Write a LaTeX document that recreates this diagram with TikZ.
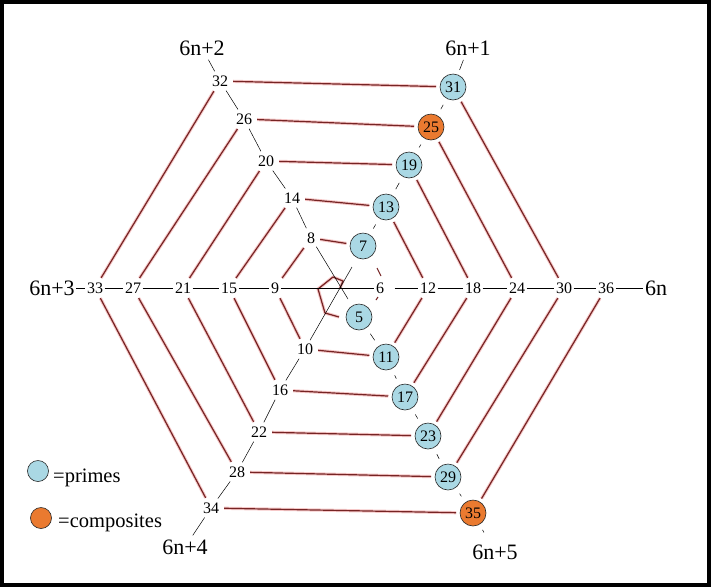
\documentclass[tikz,border=0pt]{standalone}
\usepackage{fontspec}
\setmainfont{Liberation Serif}
\usetikzlibrary{calc}
\definecolor{pblue}{RGB}{170,216,228}
\definecolor{corange}{RGB}{234,122,48}
\definecolor{sred}{RGB}{118,36,36}
\definecolor{shalo}{RGB}{246,200,200}
\begin{document}
\begin{tikzpicture}[x=1pt,y=-1pt,
  num/.style={inner sep=1.5pt, font=\fontsize{16}{16}\selectfont},
  pr/.style={circle, draw=black!85, line width=0.6pt, fill=pblue, minimum size=26pt, inner sep=0pt, font=\fontsize{16}{16}\selectfont},
  co/.style={pr, fill=corange},
  lab/.style={inner sep=1.5pt, font=\fontsize{22}{22}\selectfont},
  spoke/.style={black, line width=0.7pt},
  halo/.style={shalo, line width=3.2pt},
  sp/.style={sred, line width=1.2pt},
]
\useasboundingbox (0,0) rectangle (711,587);
\fill[white] (0,0) rectangle (711,587);

% axis labels
\node[lab] (L0) at (656,288) {6n};
\node[lab] (L1) at (468,48) {6n+1};
\node[lab] (L2) at (202,48) {6n+2};
\node[lab] (L3) at (52,288) {6n+3};
\node[lab] (L4) at (185,547) {6n+4};
\node[lab] (L5) at (495,552) {6n+5};

% numbers
\node[pr]  (n5)  at (359,317) {5};
\node[num] (n6)  at (380,288) {6};
\node[pr]  (n7)  at (363,246) {7};
\node[num] (n8)  at (311,238) {8};
\node[num] (n9)  at (275,288) {9};
\node[num] (n10) at (305,349) {10};
\node[pr]  (n11) at (386,357) {11};
\node[num] (n12) at (428,288) {12};
\node[pr]  (n13) at (386,207) {13};
\node[num] (n14) at (292,198) {14};
\node[num] (n15) at (229,288) {15};
\node[num] (n16) at (280,390) {16};
\node[pr]  (n17) at (405,397) {17};
\node[num] (n18) at (473,288) {18};
\node[pr]  (n19) at (409,165) {19};
\node[num] (n20) at (266,161) {20};
\node[num] (n21) at (183,288) {21};
\node[num] (n22) at (259,432) {22};
\node[pr]  (n23) at (428,436) {23};
\node[num] (n24) at (517,288) {24};
\node[co]  (n25) at (431,127) {25};
\node[num] (n26) at (244,119) {26};
\node[num] (n27) at (133,288) {27};
\node[num] (n28) at (237,472) {28};
\node[pr]  (n29) at (448,477) {29};
\node[num] (n30) at (564,288) {30};
\node[pr]  (n31) at (453,87) {31};
\node[num] (n32) at (220,81) {32};
\node[num] (n33) at (95,288) {33};
\node[num] (n34) at (211,508) {34};
\node[co]  (n35) at (473,513) {35};
\node[num] (n36) at (606,288) {36};

% spiral (red) n -> n+1
\foreach \i [evaluate=\i as \j using int(\i+1)] in {7,...,35}
  \draw[halo, shorten <=3.5pt, shorten >=3.5pt] (n\i) -- (n\j);
\foreach \i [evaluate=\i as \j using int(\i+1)] in {7,...,35}
  \draw[sp, shorten <=3.5pt, shorten >=3.5pt] (n\i) -- (n\j);

% inner spiral near the centre
\coordinate (c0) at (340,288);
\coordinate (c1) at (343,281);
\coordinate (c2) at (333,277);
\coordinate (c3) at (318,289);
\coordinate (c4) at (325,313);
\coordinate (c5) at (339,317);
\draw[halo, line join=round] (c0) -- (c1) -- (c2) -- (c3) -- (c4) -- (c5);
\draw[sp, line join=round] (c0) -- (c1) -- (c2) -- (c3) -- (c4) -- (c5);
% faint pieces of 5-6 and 6-7
\coordinate (d1) at (377,268);
\coordinate (d2) at (381,276);
\coordinate (d3) at (378,297);
\coordinate (d4) at (376,300);
\draw[sp, line width=1pt] (d1) -- (d2);
\draw[sp, line width=1pt] (d3) -- (d4);

% horizontal axis
\draw[spoke] (L3) -- (n33) -- (n27) -- (n21) -- (n15) -- (n9) -- (n6);
\draw[spoke, shorten <=9pt] (n6) -- (n12);
\draw[spoke] (n12) -- (n18) -- (n24) -- (n30) -- (n36) -- (L0);

% upper-left spoke
\foreach \a/\b in {L2/n32, n32/n26, n26/n20, n20/n14, n14/n8}
  \draw[spoke, line width=0.5pt, shorten <=3pt, shorten >=3pt] (\a) -- (\b);
% upper-right spoke
\draw[spoke, line width=0.5pt, shorten <=3pt, shorten >=5pt] (L1) -- (n31);
\foreach \a/\b in {n31/n25, n25/n19, n19/n13, n13/n7}
  \draw[spoke, line width=0.5pt, shorten <=7pt, shorten >=7pt] (\a) -- (\b);
% lower-right spoke
\foreach \a/\b in {n5/n11, n11/n17, n17/n23, n23/n29, n29/n35}
  \draw[spoke, line width=0.5pt, shorten <=7pt, shorten >=7pt] (\a) -- (\b);
\draw[spoke, line width=0.5pt, shorten <=6pt, shorten >=12pt] (n35) -- (L5);
% lower-left spoke
\foreach \a/\b in {n10/n16, n16/n22, n22/n28, n28/n34, n34/L4}
  \draw[spoke, line width=0.5pt, shorten <=3pt, shorten >=3pt] (\a) -- (\b);
% lines through the centre
\coordinate (e1) at (348,299);
\coordinate (e2) at (352,267);
\draw[spoke, line width=0.5pt, shorten <=2pt] (n8) -- (e1);
\draw[spoke, line width=0.5pt, shorten <=2pt] (n10) -- (e2);

% legend
\node[circle, draw=black!85, line width=0.6pt, fill=pblue, minimum size=21pt, inner sep=0pt] (kp) at (38,471) {};
\node[circle, draw=black!85, line width=0.6pt, fill=corange, minimum size=21pt, inner sep=0pt] (kc) at (41,518) {};
\node[anchor=base west, inner sep=0pt, font=\fontsize{20.5}{20.5}\selectfont] (tp) at (53,482) {=primes};
\node[anchor=base west, inner sep=0pt, font=\fontsize{20.5}{20.5}\selectfont] (tc) at (58,527) {=composites};

% frame
\draw[line width=4pt] (2,2) rectangle (709,585);
\end{tikzpicture}
\end{document}
